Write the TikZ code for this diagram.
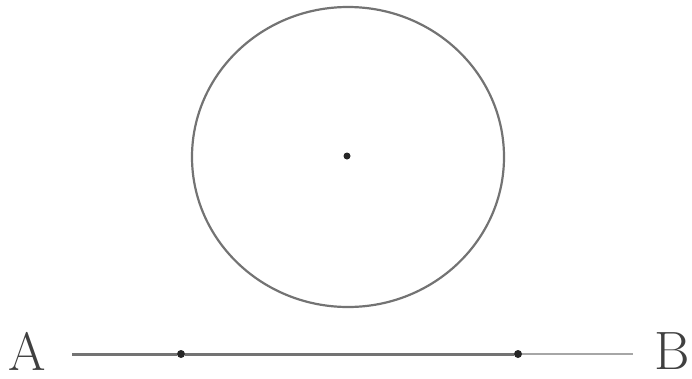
\documentclass[tikz,border=0pt]{standalone}
\begin{document}
\begin{tikzpicture}[x=1pt,y=-1pt,
  lbl/.style={inner sep=0pt, font=\fontsize{54}{54}\selectfont, text=black!75},
  dotmark/.style={circle, fill=black!85, inner sep=0pt, minimum size=8pt},
  seg/.style={draw=black!55, line width=3pt},
  thinseg/.style={draw=black!35, line width=2.2pt}]
\useasboundingbox (0,0) rectangle (692,378);
\draw[black!55, line width=2.2pt] (348,157) ellipse [x radius=156, y radius=150];
\node[dotmark, minimum size=7pt] (O) at (347,156) {};
\coordinate (L) at (72,354);
\coordinate (R) at (633,354);
\node[dotmark] (P) at (181,354) {};
\node[dotmark] (Q) at (518,354) {};
\draw[seg] (L) -- (P.west);
\draw[seg] (P.east) -- (Q.west);
\draw[thinseg] (Q.east) -- (R);
\node[lbl, anchor=center] (A) at (27,351) {A};
\node[lbl, anchor=west] (B) at (654,351) {B};
\end{tikzpicture}
\end{document}
